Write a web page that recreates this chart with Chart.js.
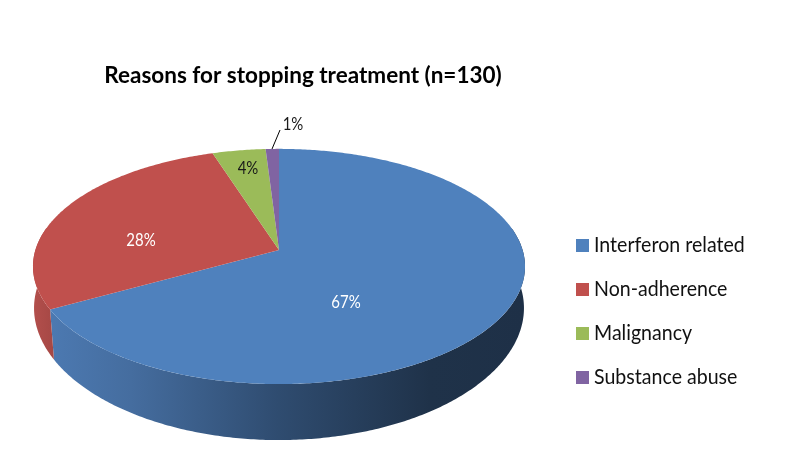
<!DOCTYPE html>
<html>
<head>
<meta charset="utf-8">
<title>Reasons for stopping treatment</title>
<script src="https://cdn.jsdelivr.net/npm/chart.js@4"></script>
<style>
  html, body { margin: 0; background: #fff; }
  #wrap { width: 790px; height: 467px; }
</style>
</head>
<body>
<div id="wrap"><canvas id="pieChart" width="790" height="467"></canvas></div>
<script>
const categories = ['Interferon related', 'Non-adherence', 'Malignancy', 'Substance abuse'];
const shares = [67, 28, 4, 1];
const sliceColors = ['#4f81bd', '#c0504d', '#9bbb59', '#8064a2'];

// tilted disc: perspective projection fitted to the picture
const view = { cx: 279, cy: 250, a: 243.6, b: 115.3, k: 0.14 };
const wall = { shrink: 0.035, base: 44.5, slope: 11.5 };

function project(angle, r) {
  const u = r * Math.cos(angle);
  const v = r * Math.sin(angle);
  const d = 1 - view.k * v;
  return { x: view.cx + view.a * u / d, y: view.cy + view.b * v / d };
}

function lowerRim(angle) {
  const p = project(angle, 1);
  const v = Math.sin(angle);
  return {
    x: view.cx + (p.x - view.cx) * (1 - wall.shrink * v),
    y: p.y + wall.base + wall.slope * v
  };
}

function sweep(from, to) {
  const out = [];
  const steps = Math.max(2, Math.ceil((to - from) * 90));
  for (let i = 0; i <= steps; i++) out.push(from + (to - from) * i / steps);
  return out;
}

function wallFill(ctx, i) {
  const g = ctx.createLinearGradient(i === 1 ? 33 : 50, 0, i === 1 ? 56 : 525, 0);
  if (i === 1) {
    g.addColorStop(0, '#b34f4c');
    g.addColorStop(1, '#a44744');
  } else {
    g.addColorStop(0, '#4c79b1');
    g.addColorStop(0.17, '#456d9f');
    g.addColorStop(0.48, '#2f4c70');
    g.addColorStop(0.8, '#1f3249');
    g.addColorStop(1, '#1e3047');
  }
  return g;
}

// the reference type is narrower than the installed fonts
function narrowText(ctx, text, x, y, sx) {
  ctx.save();
  ctx.translate(x, y);
  ctx.scale(sx, 1);
  ctx.fillText(text, 0, 0);
  ctx.restore();
}

const tiltedPie = {
  id: 'tiltedPie',
  afterLayout(chart) {
    chart.titleBlock.left = 0;
    chart.titleBlock.right = 606;
  },
  beforeDatasetDraw(chart, args) {
    const { ctx } = chart;
    const arcs = args.meta.data;
    ctx.save();
    // side wall first, only the part facing the viewer
    arcs.forEach((arc, i) => {
      const from = Math.max(arc.startAngle, -0.2);
      const to = Math.min(arc.endAngle, Math.PI + 0.2);
      if (to <= from) return;
      const angles = sweep(from, to);
      ctx.beginPath();
      angles.forEach(t => { const p = project(t, 1); ctx.lineTo(p.x, p.y); });
      angles.reverse().forEach(t => { const p = lowerRim(t); ctx.lineTo(p.x, p.y); });
      ctx.closePath();
      ctx.fillStyle = wallFill(ctx, i);
      ctx.fill();
    });
    // top face
    arcs.forEach((arc, i) => {
      ctx.beginPath();
      ctx.moveTo(view.cx, view.cy);
      sweep(arc.startAngle, arc.endAngle).forEach(t => {
        const p = project(t, 1);
        ctx.lineTo(p.x, p.y);
      });
      ctx.closePath();
      ctx.fillStyle = sliceColors[i];
      ctx.fill();
    });
    ctx.restore();
    return false;
  },
  afterDraw(chart) {
    const { ctx } = chart;
    ctx.save();
    // percent labels
    const labelSpots = [[346, 303, '#fff'], [141, 241, '#fff'], [248, 169, '#1a1a1a'], [293, 125, '#1a1a1a']];
    ctx.font = '17px Lato';
    ctx.textAlign = 'center';
    ctx.textBaseline = 'middle';
    shares.forEach((v, i) => {
      ctx.fillStyle = labelSpots[i][2];
      narrowText(ctx, v + '%', labelSpots[i][0], labelSpots[i][1], 0.88);
    });
    // leader to the smallest slice
    ctx.strokeStyle = '#000';
    ctx.lineWidth = 1;
    ctx.beginPath();
    ctx.moveTo(280, 130);
    ctx.lineTo(272, 149);
    ctx.stroke();
    // legend
    ctx.font = '22px Lato';
    ctx.textAlign = 'left';
    categories.forEach((name, i) => {
      const y = 245 + i * 44;
      ctx.fillStyle = sliceColors[i];
      ctx.fillRect(576, y - 6, 13, 13);
      ctx.fillStyle = '#111';
      narrowText(ctx, name, 594, y, 0.89);
    });
    ctx.restore();
  }
};

new Chart(document.getElementById('pieChart').getContext('2d'), {
  type: 'pie',
  data: {
    labels: categories,
    datasets: [{ data: shares, backgroundColor: sliceColors, borderWidth: 0 }]
  },
  options: {
    responsive: false,
    animation: false,
    plugins: {
      legend: { display: false },
      tooltip: { enabled: false },
      title: {
        display: true,
        text: 'Reasons for stopping treatment (n=130)',
        color: '#000',
        font: { family: 'Lato', size: 22.5, weight: 'bold' },
        padding: { top: 62, bottom: 0 }
      }
    }
  },
  plugins: [tiltedPie]
});
</script>
</body>
</html>
